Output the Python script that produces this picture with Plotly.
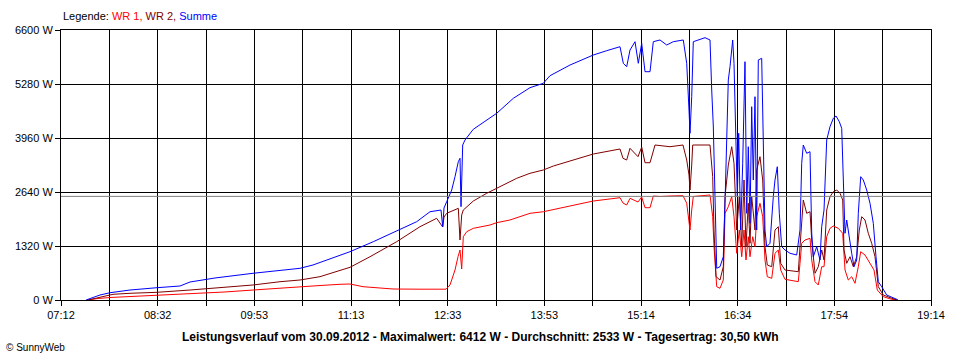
import plotly.graph_objects as go
from datetime import datetime, timedelta

DAY = "2012-09-30"

wr1_time = ["07:34:25","07:42:43","07:52:40","08:09:16","08:31:40","08:50:46","09:07:21","09:28:06","09:51:20","10:13:45","10:30:20","10:46:56","11:03:32","11:11:50","11:22:38","11:36:44","11:47:31","12:09:56","12:31:31","12:34:50","12:38:59","12:41:28","12:43:08","12:44:32","12:45:52","12:48:41","12:54:10","13:08:01","13:13:35","13:24:37","13:41:13","13:52:16","14:14:25","14:33:45","14:55:55","14:58:24","15:01:28","15:04:13","15:10:51","15:13:55","15:16:40","15:20:49","15:23:33","15:29:06","15:37:24","15:48:11","15:51:16","15:53:10","15:54:00","15:55:25","15:56:44","16:10:36","16:12:50","16:13:55","16:16:10","16:18:54","16:21:38","16:23:03","16:25:47","16:28:37","16:30:31","16:32:46","16:34:55","16:36:55","16:38:49","16:40:28","16:42:23","16:43:47","16:46:02","16:47:56","16:49:21","16:52:05","16:54:20","16:56:14","16:58:09","17:01:49","17:04:32","17:07:17","17:09:16","17:12:50","17:19:44","17:23:53","17:25:17","17:26:42","17:29:26","17:33:35","17:35:00","17:37:44","17:40:29","17:43:18","17:45:13","17:47:27","17:50:11","17:52:56","17:57:05","18:00:44","18:02:38","18:05:22","18:08:11","18:10:56","18:13:40","18:15:40","18:19:14","18:23:23","18:26:42","18:29:26","18:34:25","18:41:23","18:45:47"]
wr1_watt = [0,37,61,86,105,134,164,196,244,281,310,354,384,391,325,293,269,264,264,367,733,1058,1222,758,1547,1670,1752,1833,1890,1956,2119,2158,2305,2420,2501,2371,2322,2486,2396,2518,2256,2256,2542,2530,2542,2550,2364,1833,1711,2200,2530,2567,2036,1303,325,286,489,2119,2281,2525,2036,1142,1711,1058,1711,978,1547,1058,1547,1303,2036,2364,2036,978,570,530,1142,1222,733,506,472,448,897,1386,1467,1508,978,448,367,814,814,1547,1752,1809,1752,1630,733,489,570,408,814,1181,1100,897,733,244,81,17,0]

wr2_time = ["07:34:25","07:44:22","07:55:09","08:09:16","08:31:40","08:59:04","09:23:57","09:51:20","10:13:45","10:30:20","10:46:56","11:03:32","11:11:50","11:28:26","11:50:35","12:09:56","12:23:47","12:28:46","12:29:51","12:32:05","12:41:43","12:43:08","12:44:32","12:45:52","12:48:41","12:54:10","13:05:17","13:16:19","13:30:11","13:41:13","13:52:16","14:00:34","14:14:25","14:33:45","14:55:55","14:58:24","15:01:28","15:04:13","15:10:51","15:13:55","15:16:40","15:20:49","15:24:58","15:37:24","15:48:11","15:51:16","15:53:10","15:54:00","15:55:25","15:56:14","16:10:36","16:12:50","16:13:55","16:15:35","16:18:54","16:21:38","16:23:03","16:25:47","16:28:37","16:30:31","16:32:46","16:34:55","16:36:55","16:38:49","16:40:28","16:42:23","16:43:47","16:45:12","16:47:56","16:49:21","16:52:05","16:54:20","16:56:14","16:58:09","17:01:49","17:04:32","17:07:17","17:09:16","17:12:50","17:19:44","17:23:53","17:25:17","17:26:42","17:28:01","17:30:51","17:33:35","17:35:00","17:37:44","17:40:29","17:43:18","17:45:13","17:47:27","17:50:11","17:52:56","17:55:45","17:58:29","18:00:44","18:01:49","18:04:03","18:06:47","18:09:31","18:12:21","18:14:30","18:16:30","18:19:14","18:21:58","18:24:47","18:27:32","18:30:16","18:34:25","18:41:23","18:45:47"]
wr2_watt = [0,66,139,164,188,244,301,367,447,489,570,716,799,1058,1425,1792,1997,1784,2029,2119,2241,1467,2078,2200,2281,2420,2608,2770,2975,3097,3178,3275,3398,3569,3691,3464,3422,3708,3503,3740,3356,3356,3789,3747,3789,3422,3056,2689,3300,3789,3789,3014,1711,570,489,814,2525,3300,3747,3341,1711,2525,1303,2933,1303,2364,1386,2525,1711,3178,3503,2933,1303,856,814,1711,1792,897,733,716,692,1303,2036,2444,2119,2158,1467,653,814,1222,978,2200,2525,2647,2689,2608,2444,1222,897,1058,814,1058,1711,2036,1956,1630,1386,1058,325,122,42,0]

summe_time = ["07:32:45","07:44:22","07:52:40","08:09:16","08:31:40","08:50:46","08:59:04","09:13:10","09:19:48","09:51:20","10:13:45","10:30:20","10:41:08","10:55:14","11:03:32","11:11:50","11:31:11","11:50:35","12:07:11","12:18:14","12:27:22","12:28:46","12:29:51","12:32:05","12:36:14","12:38:59","12:41:43","12:43:08","12:43:58","12:45:22","12:47:17","12:54:10","13:05:17","13:13:35","13:27:22","13:41:13","13:52:16","13:57:49","14:14:25","14:33:45","14:44:52","14:55:55","14:58:39","15:01:28","15:04:13","15:08:22","15:11:06","15:13:55","15:16:40","15:20:49","15:23:33","15:29:06","15:34:40","15:40:08","15:48:26","15:51:16","15:53:10","15:54:00","15:55:25","15:56:44","16:06:27","16:10:36","16:12:01","16:13:20","16:14:45","16:16:10","16:18:54","16:21:38","16:23:03","16:25:47","16:27:12","16:29:26","16:30:31","16:32:11","16:33:16","16:34:25","16:36:04","16:37:44","16:39:38","16:41:04","16:42:23","16:43:47","16:45:12","16:46:32","16:47:56","16:49:21","16:50:41","16:53:30","16:54:50","16:56:14","16:57:39","17:00:23","17:03:08","17:04:32","17:06:27","17:08:07","17:10:06","17:12:50","17:16:59","17:22:33","17:25:17","17:26:42","17:28:01","17:30:51","17:33:35","17:35:00","17:36:20","17:39:09","17:41:53","17:43:18","17:45:13","17:47:27","17:50:11","17:52:56","17:55:10","17:57:55","17:59:54","18:01:14","18:02:38","18:04:03","18:06:12","18:08:11","18:10:06","18:12:21","18:13:40","18:15:40","18:17:49","18:20:39","18:23:23","18:26:07","18:28:22","18:30:16","18:33:05","18:37:14","18:45:32","18:46:37"]
summe_watt = [0,122,178,244,301,342,440,506,538,653,733,775,856,1002,1083,1181,1425,1687,1914,2158,2200,1792,2249,2403,2689,3014,3381,3464,2281,3789,3911,4173,4400,4564,4930,5190,5297,5483,5744,5989,6094,6192,5786,5703,6111,6314,5786,6275,5581,5581,6314,6356,6233,6314,6356,5786,4644,4075,4970,6314,6412,6356,5133,4253,2525,775,814,1058,2364,5378,5703,6356,5786,4156,2525,4075,1711,3341,5825,2119,3747,1875,4725,2933,4970,1711,5867,5908,4156,1711,1303,1386,2525,2933,3258,2119,1303,1222,1142,1100,1711,3341,3789,3586,3625,1638,1058,1303,978,1792,2200,3911,4236,4442,4498,4358,4197,2608,1630,1956,1467,1142,814,978,2119,3014,2933,2689,2364,1875,1058,448,325,122,17,0]

x_labels = ["07:12", "08:32", "09:53", "11:13", "12:33", "13:53", "15:14", "16:34", "17:54", "19:14"]
y_ticks = [0, 1320, 2640, 3960, 5280, 6600]
y_labels = ["0 W", "1320 W", "2640 W", "3960 W", "5280 W", "6600 W"]
average_w = 2533
title_text = "Leistungsverlauf vom 30.09.2012 - Maximalwert: 6412 W - Durchschnitt: 2533 W - Tagesertrag: 30,50 kWh"

FONT = "Liberation Sans, Arial, sans-serif"

def ts(lst):
    return [f"{DAY} {t}" for t in lst]

fig = go.Figure()
fig.add_trace(go.Scatter(x=ts(wr1_time), y=wr1_watt, mode="lines", name="WR 1",
                         line=dict(color="#ff0000", width=1)))
fig.add_trace(go.Scatter(x=ts(wr2_time), y=wr2_watt, mode="lines", name="WR 2",
                         line=dict(color="#800000", width=1)))
fig.add_trace(go.Scatter(x=ts(summe_time), y=summe_watt, mode="lines", name="Summe",
                         line=dict(color="#0000ff", width=1)))

start = datetime(2012, 9, 30, 7, 12)
end = datetime(2012, 9, 30, 19, 14)
n = 18
step = (end - start) / n
tickvals = [(start + step * k).strftime("%Y-%m-%d %H:%M:%S") for k in range(n + 1)]
ticktext = [x_labels[k // 2] if k % 2 == 0 else "" for k in range(n + 1)]

fig.add_shape(type="line", xref="paper", x0=0, x1=1, yref="y", y0=average_w, y1=average_w,
              line=dict(color="#808080", width=1), layer="above")

fig.update_layout(
    width=960, height=360,
    margin=dict(l=61, r=29, t=30, b=60),
    paper_bgcolor="white", plot_bgcolor="white",
    showlegend=False,
    font=dict(family=FONT, size=11, color="black"),
    xaxis=dict(type="date", range=[start.strftime("%Y-%m-%d %H:%M:%S"), end.strftime("%Y-%m-%d %H:%M:%S")],
               tickvals=tickvals, ticktext=ticktext, ticks="outside", ticklen=5,
               tickcolor="black", showgrid=True, gridcolor="black", gridwidth=1,
               showline=True, linecolor="black", linewidth=1, mirror=True,
               zeroline=False, tickfont=dict(family=FONT, size=11)),
    yaxis=dict(range=[0, 6600], tickvals=y_ticks, ticktext=y_labels, ticks="outside",
               ticklen=5, tickcolor="black", showgrid=True, gridcolor="black", gridwidth=1,
               showline=True, linecolor="black", linewidth=1, mirror=True,
               zeroline=False, tickfont=dict(family=FONT, size=11)),
)

fig.add_annotation(xref="paper", yref="paper", x=0, y=1, yshift=14, xanchor="left", yanchor="middle",
                   showarrow=False, font=dict(family=FONT, size=11, color="black"),
                   text="Legende: <span style='color:#ff0000'>WR 1,</span> "
                        "<span style='color:#800000'>WR 2,</span> "
                        "<span style='color:#0000ff'>Summe</span>")
fig.add_annotation(xref="paper", yref="paper", x=(480 - 61) / 870, y=0, yshift=-37,
                   xanchor="center", yanchor="middle", showarrow=False,
                   font=dict(family=FONT, size=12, color="black"),
                   text=f"<b>{title_text}</b>")
fig.add_annotation(xref="paper", yref="paper", x=(4 - 61) / 870, y=0, yshift=-47,
                   xanchor="left", yanchor="middle", showarrow=False,
                   font=dict(family=FONT, size=10, color="black"),
                   text="© SunnyWeb")

fig.write_html("out.html", config={"displayModeBar": False},
               post_script="document.body.style.margin='0';document.body.style.padding='0';")
